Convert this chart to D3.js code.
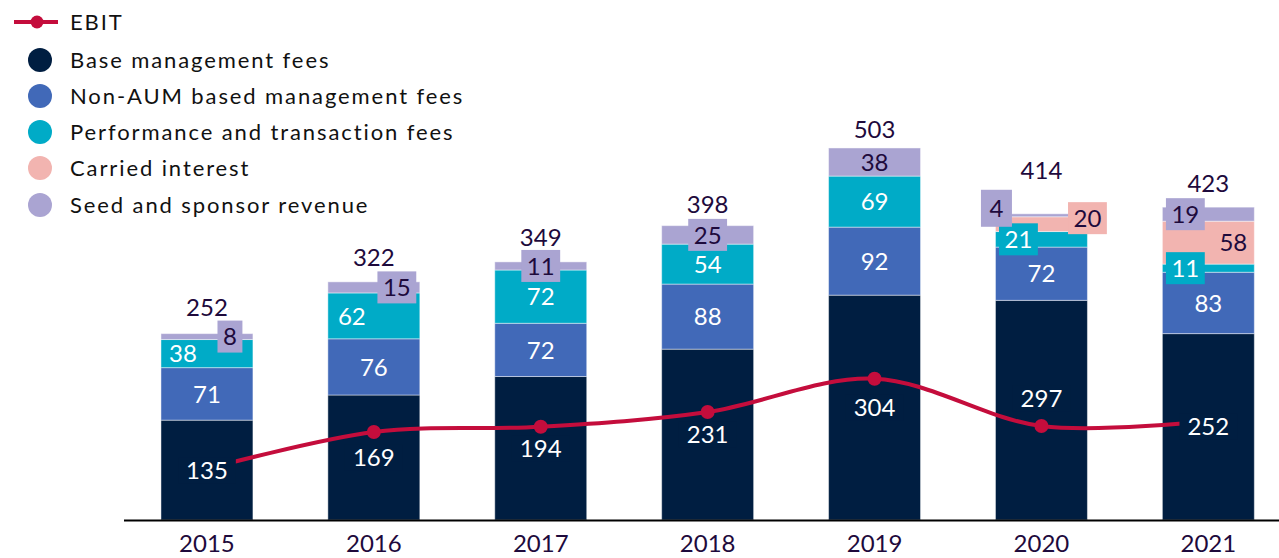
<!DOCTYPE html>
<html>
<head>
<meta charset="utf-8">
<script src="https://cdn.jsdelivr.net/npm/d3@7"></script>
<style>
  body { margin: 0; background: #fff; }
  svg { display: block; font-family: "Lato", sans-serif; }
</style>
</head>
<body>
<script>
// chart data
var years = ["2015", "2016", "2017", "2018", "2019", "2020", "2021"];
var baseFees = [135, 169, 194, 231, 304, 297, 252];
var nonAumFees = [71, 76, 72, 88, 92, 72, 83];
var perfFees = [38, 62, 72, 54, 69, 21, 11];
var carriedInterest = [0, 0, 0, 0, 0, 20, 58];
var seedRevenue = [8, 15, 11, 25, 38, 4, 19];
var ebit = [69, 119, 126, 146, 191, 127, 134];

var seriesNames = ["Base management fees", "Non-AUM based management fees", "Performance and transaction fees", "Carried interest", "Seed and sponsor revenue"];
var seriesKeys = ["base", "nonAum", "perf", "carried", "seed"];
var seriesValues = [baseFees, nonAumFees, perfFees, carriedInterest, seedRevenue];
var colors = ["#001e41", "#4169b8", "#00abc7", "#f2b4b0", "#aaa4d2"];
var darkText = { carried: true, seed: true };

// label nudges (px) for the crowded segments
var labelTweaks = {
  "2015|perf": { dx: -24 },
  "2015|seed": { dx: 23, box: true },
  "2016|perf": { dx: -22 },
  "2016|seed": { dx: 23, box: true },
  "2017|seed": { box: true },
  "2018|seed": { box: true },
  "2020|base": { dy: -12 },
  "2020|perf": { dx: -23, box: true },
  "2020|carried": { dx: 46, dy: -6, box: true },
  "2020|seed": { dx: -45, dy: -7, box: true, w: 31, h: 37 },
  "2021|perf": { dx: -23, box: true },
  "2021|carried": { dx: 25 },
  "2021|seed": { dx: -23, box: true }
};
var totalLift = [26, 24, 25, 21, 19, 43, 24];

var width = 1279, height = 558;
var baseY = 520;

var svg = d3.select("body").append("svg")
  .attr("width", width)
  .attr("height", height);

var x = d3.scaleBand()
  .domain(years)
  .range([123.5, 1291.8])
  .paddingInner(0.449)
  .paddingOuter(0.2245);

var y = d3.scaleLinear()
  .domain([0, 700])
  .range([baseY, baseY - 0.7396 * 700]);

var rows = years.map(function(yr, i) {
  var row = { year: yr };
  seriesKeys.forEach(function(k, j) { row[k] = seriesValues[j][i]; });
  return row;
});

var stacked = d3.stack().keys(seriesKeys)(rows);

// bars
var layers = svg.append("g").selectAll("g")
  .data(stacked)
  .join("g")
  .attr("fill", function(d, i) { return colors[i]; });

layers.selectAll("rect")
  .data(function(d) { return d; })
  .join("rect")
  .attr("x", function(d) { return x(d.data.year); })
  .attr("y", function(d) { return y(d[1]); })
  .attr("width", x.bandwidth())
  .attr("height", function(d) { return y(d[0]) - y(d[1]); })
  .attr("stroke", "rgba(255,255,255,0.45)")
  .attr("stroke-width", 1);

// axis
var axis = svg.append("g")
  .attr("transform", "translate(0," + baseY + ")")
  .call(d3.axisBottom(x).tickSize(0).tickPadding(15));
axis.select(".domain").attr("stroke", "#000").attr("stroke-width", 2);
axis.selectAll("text")
  .attr("font-size", 24)
  .attr("font-family", "Lato, sans-serif")
  .attr("fill", "#1e0a3c");

// EBIT line
var ebitPts = years.map(function(yr, i) { return [x(yr) + x.bandwidth() / 2, y(ebit[i])]; });
var ebitColor = "#c40d3c";

svg.append("path")
  .attr("d", d3.line().curve(d3.curveCardinal.tension(0))(ebitPts))
  .attr("fill", "none")
  .attr("stroke", ebitColor)
  .attr("stroke-width", 4);

svg.append("g").selectAll("circle")
  .data(ebitPts)
  .join("circle")
  .attr("cx", function(d) { return d[0]; })
  .attr("cy", function(d) { return d[1]; })
  .attr("r", 7)
  .attr("fill", ebitColor);

// segment labels
var labelG = svg.append("g");
stacked.forEach(function(layer, li) {
  var key = layer.key;
  layer.forEach(function(d) {
    var v = d[1] - d[0];
    if (v <= 0) return;
    var t = labelTweaks[d.data.year + "|" + key] || {};
    var cx = x(d.data.year) + x.bandwidth() / 2 + (t.dx || 0);
    var cy = (y(d[0]) + y(d[1])) / 2 + (t.dy || 0);
    var g = labelG.append("g");
    var bg = g.append("rect").attr("fill", colors[li]);
    var txt = g.append("text")
      .attr("x", cx)
      .attr("y", cy)
      .attr("dy", "0.36em")
      .attr("text-anchor", "middle")
      .attr("font-size", 24)
      .attr("fill", darkText[key] ? "#1e0a3c" : "#fff")
      .text(v);
    var tw = txt.node().getComputedTextLength();
    if (t.box) {
      var bw = t.w || tw + 11, bh = t.h || 32;
      bg.attr("x", cx - bw / 2).attr("y", cy - bh / 2).attr("width", bw).attr("height", bh);
    } else if (key === "base") {
      // halo so the EBIT line stops short of the number
      bg.attr("x", cx - tw / 2 - 8).attr("y", cy - 13).attr("width", tw + 16).attr("height", 26);
    } else {
      bg.remove();
    }
  });
});

// totals
svg.append("g").selectAll("text")
  .data(rows)
  .join("text")
  .attr("x", function(d) { return x(d.year) + x.bandwidth() / 2; })
  .attr("y", function(d, i) {
    var tot = d3.sum(seriesKeys, function(k) { return d[k]; });
    return y(tot) - totalLift[i];
  })
  .attr("dy", "0.36em")
  .attr("text-anchor", "middle")
  .attr("font-size", 24)
  .attr("fill", "#1e0a3c")
  .text(function(d) { return d3.sum(seriesKeys, function(k) { return d[k]; }); });

// legend
var legend = svg.append("g");
var rowY = [22, 60, 96, 132, 168, 205];
legend.append("line")
  .attr("x1", 14).attr("x2", 58)
  .attr("y1", rowY[0]).attr("y2", rowY[0])
  .attr("stroke", ebitColor).attr("stroke-width", 4);
legend.append("circle")
  .attr("cx", 37).attr("cy", rowY[0]).attr("r", 6.5)
  .attr("fill", ebitColor);
legend.append("text")
  .attr("x", 70).attr("y", rowY[0]).attr("dy", "0.36em")
  .attr("font-size", 22).attr("letter-spacing", 1.9).attr("fill", "#111")
  .text("EBIT");

seriesNames.forEach(function(name, i) {
  legend.append("circle")
    .attr("cx", 40).attr("cy", rowY[i + 1]).attr("r", 12)
    .attr("fill", colors[i]);
  legend.append("text")
    .attr("x", 70).attr("y", rowY[i + 1]).attr("dy", "0.36em")
    .attr("font-size", 22).attr("letter-spacing", 1.9).attr("fill", "#111")
    .text(name);
});
</script>
</body>
</html>
